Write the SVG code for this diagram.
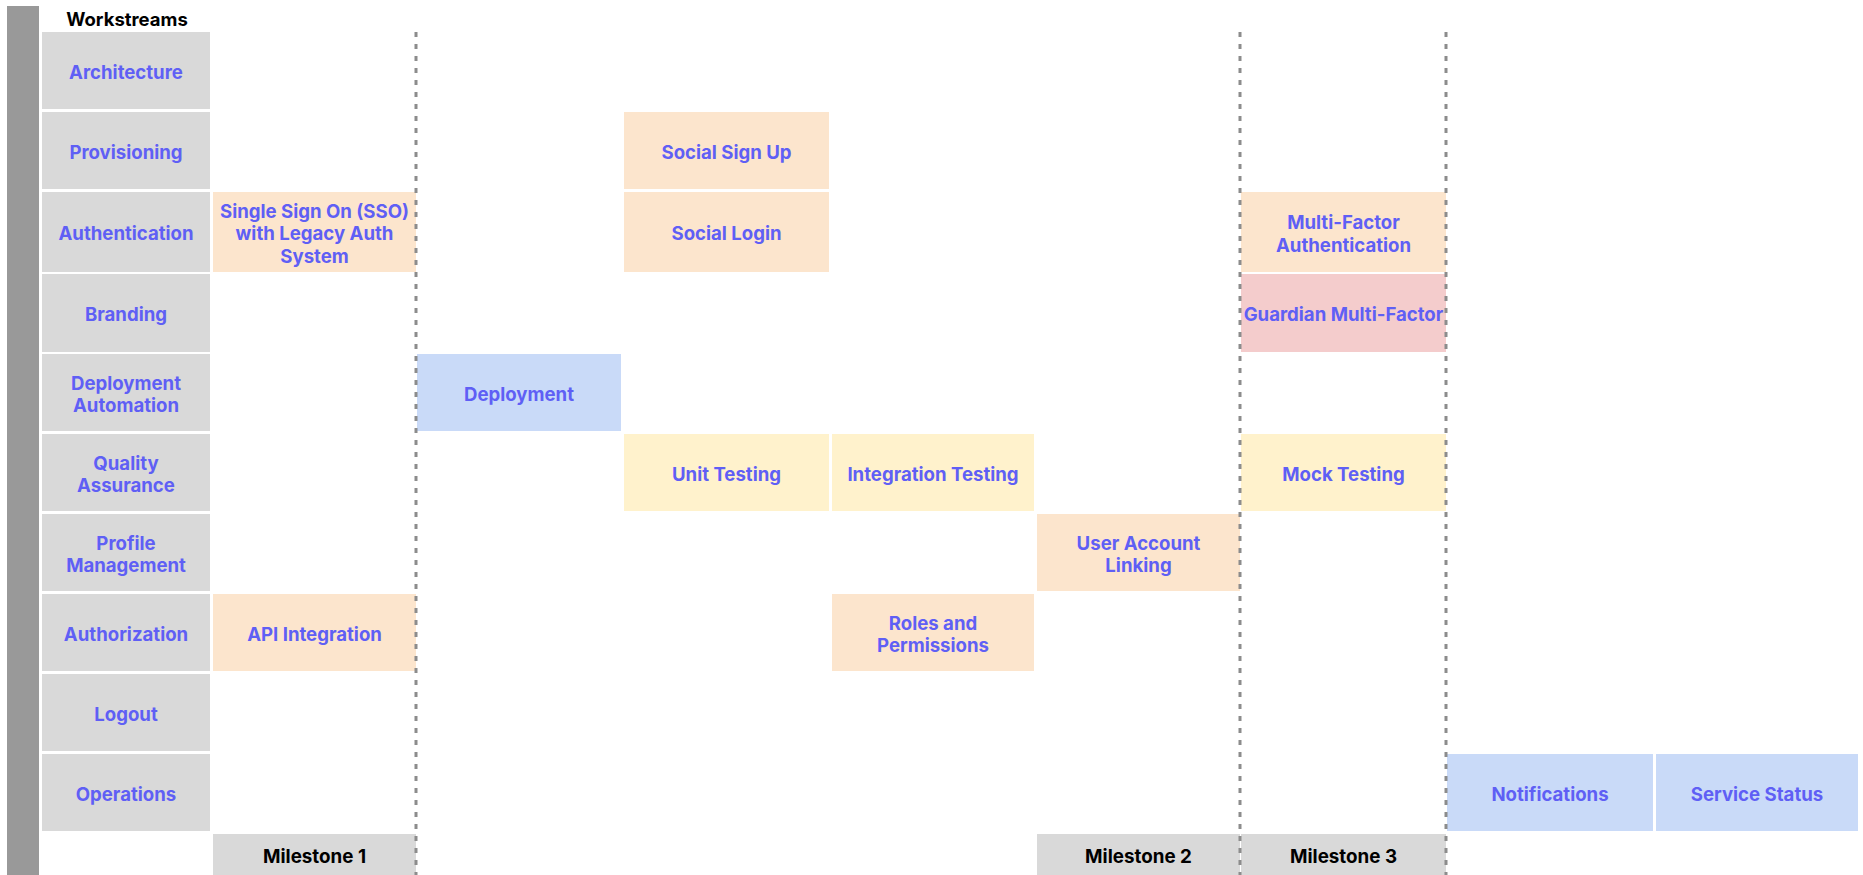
<svg xmlns="http://www.w3.org/2000/svg" width="1863" height="875" viewBox="0 0 1863 875">
<style>
.ws{fill:#d9d9d9}
.or{fill:#fce5cd}
.ye{fill:#fff2cc}
.bl{fill:#c9daf8}
.pk{fill:#f4cccc}
.ms{fill:#d9d9d9}
text{font-family:Inter,"Liberation Sans",sans-serif;font-size:18.6px;text-anchor:middle}
.t{font-weight:700;fill:#5f5ff5}
.k{font-weight:700;fill:#000}
.dash{stroke:#8c8c8c;stroke-width:3;stroke-dasharray:5 7;fill:none}
</style>
<rect x="0" y="0" width="1863" height="875" fill="#fff"/>
<rect id="side-bar" x="7" y="6" width="32" height="869" fill="#999"/>
<text class="k" x="127" y="26" style="font-size:18.5px">Workstreams</text>

<g id="workstreams">
<g id="ws-architecture"><rect class="ws" x="42" y="32" width="168" height="77"/><text class="t" x="126" y="79">Architecture</text></g>
<g id="ws-provisioning"><rect class="ws" x="42" y="112" width="168" height="77"/><text class="t" x="126" y="159">Provisioning</text></g>
<g id="ws-authentication"><rect class="ws" x="42" y="192" width="168" height="80"/><text class="t" x="126" y="240">Authentication</text></g>
<g id="ws-branding"><rect class="ws" x="42" y="274" width="168" height="78"/><text class="t" x="126" y="321">Branding</text></g>
<g id="ws-deployment-automation"><rect class="ws" x="42" y="354" width="168" height="77"/><text class="t" x="126" y="389.5">Deployment</text><text class="t" x="126" y="412">Automation</text></g>
<g id="ws-quality-assurance"><rect class="ws" x="42" y="434" width="168" height="77"/><text class="t" x="126" y="469.5">Quality</text><text class="t" x="126" y="492">Assurance</text></g>
<g id="ws-profile-management"><rect class="ws" x="42" y="514" width="168" height="77"/><text class="t" x="126" y="549.5">Profile</text><text class="t" x="126" y="572">Management</text></g>
<g id="ws-authorization"><rect class="ws" x="42" y="594" width="168" height="77"/><text class="t" x="126" y="641">Authorization</text></g>
<g id="ws-logout"><rect class="ws" x="42" y="674" width="168" height="77"/><text class="t" x="126" y="721">Logout</text></g>
<g id="ws-operations"><rect class="ws" x="42" y="754" width="168" height="77"/><text class="t" x="126" y="801">Operations</text></g>
</g>

<g id="tasks">
<g id="task-social-sign-up"><rect class="or" x="624" y="112" width="205" height="77"/><text class="t" x="726.5" y="159">Social Sign Up</text></g>
<g id="task-sso"><rect class="or" x="213" y="192" width="203" height="80"/><text class="t" x="314.5" y="217.5">Single Sign On (SSO)</text><text class="t" x="314.5" y="240">with Legacy Auth</text><text class="t" x="314.5" y="262.5">System</text></g>
<g id="task-social-login"><rect class="or" x="624" y="192" width="205" height="80"/><text class="t" x="726.5" y="240">Social Login</text></g>
<g id="task-mfa"><rect class="or" x="1241" y="192" width="205" height="80"/><text class="t" x="1343.5" y="229">Multi-Factor</text><text class="t" x="1343.5" y="251.5">Authentication</text></g>
<g id="task-guardian"><rect class="pk" x="1241" y="274" width="205" height="78"/><text class="t" x="1343.5" y="321">Guardian Multi-Factor</text></g>
<g id="task-deployment"><rect class="bl" x="417" y="354" width="204" height="77"/><text class="t" x="519" y="401">Deployment</text></g>
<g id="task-unit-testing"><rect class="ye" x="624" y="434" width="205" height="77"/><text class="t" x="726.5" y="481">Unit Testing</text></g>
<g id="task-integration-testing"><rect class="ye" x="832" y="434" width="202" height="77"/><text class="t" x="933" y="481">Integration Testing</text></g>
<g id="task-mock-testing"><rect class="ye" x="1241" y="434" width="205" height="77"/><text class="t" x="1343.5" y="481">Mock Testing</text></g>
<g id="task-user-account-linking"><rect class="or" x="1037" y="514" width="203" height="77"/><text class="t" x="1138.5" y="549.5">User Account</text><text class="t" x="1138.5" y="572">Linking</text></g>
<g id="task-api-integration"><rect class="or" x="213" y="594" width="203" height="77"/><text class="t" x="314.5" y="641">API Integration</text></g>
<g id="task-roles-permissions"><rect class="or" x="832" y="594" width="202" height="77"/><text class="t" x="933" y="629.5">Roles and</text><text class="t" x="933" y="652">Permissions</text></g>
<g id="task-notifications"><rect class="bl" x="1447" y="754" width="206" height="77"/><text class="t" x="1550" y="801">Notifications</text></g>
<g id="task-service-status"><rect class="bl" x="1656" y="754" width="202" height="77"/><text class="t" x="1757" y="801">Service Status</text></g>
</g>

<g id="milestones">
<g id="milestone-1"><rect class="ms" x="213" y="834" width="203" height="41"/><text class="k" x="314.5" y="863" style="font-size:18.8px">Milestone 1</text></g>
<g id="milestone-2"><rect class="ms" x="1037" y="834" width="203" height="41"/><text class="k" x="1138.5" y="863" style="font-size:18.8px">Milestone 2</text></g>
<g id="milestone-3"><rect class="ms" x="1241" y="834" width="205" height="41"/><text class="k" x="1343.5" y="863" style="font-size:18.8px">Milestone 3</text></g>
</g>

<g id="connectors">
<line class="dash" x1="416" y1="32" x2="416" y2="875"/>
<line class="dash" x1="1240" y1="32" x2="1240" y2="875"/>
<line class="dash" x1="1446" y1="32" x2="1446" y2="875"/>
</g>
</svg>
